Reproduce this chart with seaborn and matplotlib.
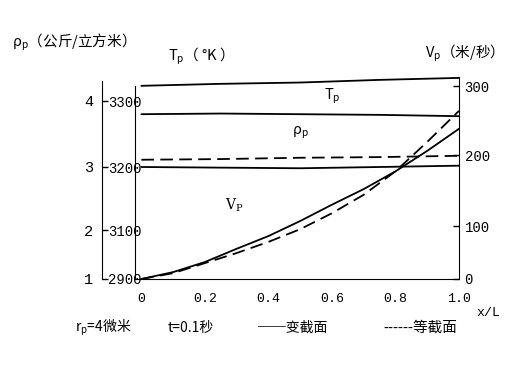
import numpy as np
import matplotlib
matplotlib.use("Agg")
import matplotlib.pyplot as plt
import seaborn as sns

# x/L stations
x_curve = [0.0, 0.1, 0.2, 0.3, 0.4, 0.5, 0.6, 0.7, 0.8, 0.9, 1.0]
x_flat = [0.0, 0.25, 0.5, 0.75, 1.0]

# particle velocity Vp (m/s)
vp_var = [0, 13, 32, 57, 81, 107, 130, 152, 177, 206, 238]     # 变截面
vp_const = [0, 11, 30, 49, 70, 94, 118, 144, 177, 219, 264]    # 等截面

# particle temperature Tp (K)
tp_upper = [3323, 3326, 3328, 3332, 3335]
tp_lower = [3280, 3281, 3280, 3279, 3277]

# particle density rho_p (kg/m3)
rho_var = [3.00, 2.99, 2.98, 3.00, 3.02]
rho_const = [3.11, 3.12, 3.14, 3.15, 3.17]

# tick values of the three vertical scales
x_ticks = [0, 0.2, 0.4, 0.6, 0.8, 1.0]
x_labels = ["0", "0.2", "0.4", "0.6", "0.8", "1.0"]
t_ticks = [2900, 3100, 3200, 3300]
rho_ticks = [1, 2, 3, 4]
v_ticks = [0, 100, 200, 300]

# the printed scales are not evenly spaced, so map ticks to their drawn height
left_tick_h = [0, 49, 112, 178]
right_tick_h = [0, 53, 124, 193]
axes_h = 202


def _interp(v, xp, fp):
    v = np.asarray(v, float)
    out = np.interp(v, xp, fp)
    lo = (fp[1] - fp[0]) / (xp[1] - xp[0])
    hi = (fp[-1] - fp[-2]) / (xp[-1] - xp[-2])
    out = np.where(v < xp[0], fp[0] + (v - xp[0]) * lo, out)
    out = np.where(v > xp[-1], fp[-1] + (v - xp[-1]) * hi, out)
    return out


def drawn_scale(vals, heights):
    vals = np.asarray(vals, float)
    heights = np.asarray(heights, float)
    return (lambda v: _interp(v, vals, heights),
            lambda h: _interp(h, heights, vals))


sns.set_style("white", rc={"axes.edgecolor": "black", "xtick.color": "black",
                           "ytick.color": "black", "text.color": "black"})
plt.rcParams["font.family"] = ["Noto Sans CJK SC", "DejaVu Sans"]

fig = plt.figure(figsize=(5.16, 3.66), dpi=100)
ax = fig.add_axes([135 / 516, 87 / 366, 324 / 516, axes_h / 366])
ax.set_xlim(-0.02, 1.0)

# temperature on the inner left axis
t_fwd, t_inv = drawn_scale(t_ticks, left_tick_h)
ax.set_yscale("function", functions=(t_fwd, t_inv))
ax.set_ylim(2900, float(t_inv(axes_h)))

# velocity on the right axis
axv = ax.twinx()
v_fwd, v_inv = drawn_scale(v_ticks, right_tick_h)
axv.set_yscale("function", functions=(v_fwd, v_inv))
axv.set_ylim(0, float(v_inv(axes_h)))

# density on the outer left axis
axr = ax.twinx()
r_fwd, r_inv = drawn_scale(rho_ticks, left_tick_h)
axr.set_yscale("function", functions=(r_fwd, r_inv))
axr.set_ylim(1, float(r_inv(axes_h)))

lw = 1.3
dash = (0, (7, 3.5))
sns.lineplot(x=x_flat, y=tp_upper, ax=ax, color="black", lw=lw)
sns.lineplot(x=x_flat, y=tp_lower, ax=ax, color="black", lw=lw)
sns.lineplot(x=x_flat, y=rho_var, ax=axr, color="black", lw=lw)
sns.lineplot(x=x_flat, y=rho_const, ax=axr, color="black", lw=lw, linestyle=dash)
sns.lineplot(x=x_curve, y=vp_var, ax=axv, color="black", lw=lw)
sns.lineplot(x=x_curve, y=vp_const, ax=axv, color="black", lw=lw, linestyle=dash)

for a in (ax, axv, axr):
    a.set_xlabel("")
    a.set_ylabel("")
    for s in a.spines.values():
        s.set_visible(False)
ax.spines["bottom"].set_visible(True)
ax.spines["left"].set_visible(True)
ax.spines["left"].set_bounds(2900, 3323)
axv.spines["right"].set_visible(True)
axr.spines["left"].set_visible(True)
axr.spines["left"].set_position(("outward", 24))
axr.spines["left"].set_bounds(1, 4.3)
axr.yaxis.tick_left()

num_font = "Liberation Mono"
ax.set_xticks(x_ticks, labels=x_labels, fontfamily=num_font, fontsize=9.5)
ax.set_yticks(t_ticks, labels=[str(t) for t in t_ticks], fontfamily=num_font, fontsize=10)
axr.set_yticks(rho_ticks, labels=[str(r) for r in rho_ticks], fontfamily=num_font, fontsize=11)
axv.set_yticks(v_ticks, labels=[str(v) for v in v_ticks], fontfamily=num_font, fontsize=10)
ax.minorticks_off()
axv.minorticks_off()
axr.minorticks_off()

ax.tick_params(axis="x", direction="in", length=4, width=1, pad=10)
ax.tick_params(axis="y", length=0, pad=-5)
axr.tick_params(axis="y", direction="in", length=4, width=1, pad=6)
axv.tick_params(axis="y", direction="in", length=4, width=1, pad=4)


def px(x, y):
    return x / 516, 1 - y / 366


fig.text(*px(12, 42), "ρ$_\\mathregular{p}$（公斤/立方米）", fontsize=10.5, va="center")
fig.text(*px(168, 56), "T$_\\mathregular{p}$（ °K ）", fontsize=10.5, va="center")
fig.text(*px(425, 53), "V$_\\mathregular{p}$（米/秒）", fontsize=10.5, va="center")
fig.text(*px(332, 96), "T$_\\mathregular{p}$", fontsize=10.5, ha="center", va="center")
fig.text(*px(300, 133), "ρ$_\\mathregular{p}$", fontsize=10.5, ha="center", va="center")
fig.text(*px(234, 205), "V$_\\mathregular{P}$", fontsize=10, ha="center", va="center",
         fontfamily="DejaVu Serif")
fig.text(*px(488, 313), "x/L", fontsize=9.5, ha="center", va="center", fontfamily=num_font)
fig.text(*px(75, 328), "r$_\\mathregular{p}$=4微米", fontsize=10, va="center")
fig.text(*px(168, 328), "t=0.1秒", fontsize=10, va="center")
fig.text(*px(258, 328), "──变截面", fontsize=10, va="center")
fig.text(*px(383, 328), "------等截面", fontsize=10.5, va="center")

fig.savefig("out.png", dpi=100)
